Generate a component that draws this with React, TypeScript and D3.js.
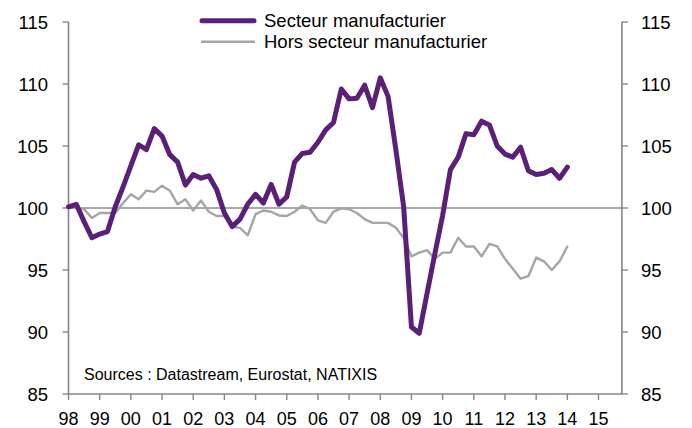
import React from "react";
import * as d3 from "d3";

const startYear = 1998;
const manufacturing = [
  100.1, 100.3, 98.9, 97.6, 97.9, 98.1, 100.1, 101.7,
  103.4, 105.1, 104.7, 106.4, 105.8, 104.3, 103.7, 101.85,
  102.7, 102.4, 102.6, 101.5, 99.6, 98.5, 99.1, 100.3,
  101.1, 100.4, 101.9, 100.3, 100.9, 103.7, 104.4, 104.5,
  105.3, 106.3, 106.9, 109.6, 108.8, 108.85, 109.9, 108.1,
  110.5, 109.0, 104.7, 100.1, 90.4, 89.9, 93.1, 96.3,
  99.4, 103.1, 104.1, 106.0, 105.9, 107.0, 106.7, 105.0,
  104.35, 104.1, 104.9, 103.0, 102.7, 102.8, 103.1, 102.4,
  103.3,
];
const nonManufacturing = [
  100.05, 100.0, 99.9, 99.2, 99.6, 99.6, 99.6, 100.4,
  101.1, 100.7, 101.4, 101.3, 101.8, 101.4, 100.3, 100.7,
  99.8, 100.6, 99.7, 99.35, 99.35, 98.5, 98.4, 97.8,
  99.5, 99.8, 99.7, 99.4, 99.35, 99.7, 100.2, 99.9,
  99.0, 98.8, 99.7, 99.97, 99.9, 99.6, 99.1, 98.8,
  98.8, 98.8, 98.4, 97.6, 96.1, 96.4, 96.6, 95.9,
  96.4, 96.4, 97.6, 96.9, 96.9, 96.1, 97.1, 96.9,
  95.9, 95.1, 94.3, 94.5, 96.0, 95.7, 95.0, 95.7,
  96.9,
];
const yearTicks = d3.range(1998, 2016);
const valueTicks = [85, 90, 95, 100, 105, 110, 115];
const seriesNames = ["Secteur manufacturier", "Hors secteur manufacturier"];
const sourceText = "Sources : Datastream, Eurostat, NATIXIS";

const W = 692;
const H = 428;
const left = 68.5;
const right = 621.9;
const top = 22;
const bottom = 394;

const PURPLE = "#5B1F78";
const GREY = "#A5A5A5";
const AXIS = "#868686";
const FONT = "'Liberation Sans', Arial, sans-serif";

export default function App() {
  const x = d3.scaleLinear().domain([1998, 2015.75]).range([left, right]);
  const y = d3.scaleLinear().domain([85, 115]).range([bottom, top]);
  const line = d3
    .line<number>()
    .x((_, i) => x(startYear + i / 4))
    .y((d) => y(d));

  return (
    <svg
      width={W}
      height={H}
      style={{ position: "absolute", left: 0, top: 0, background: "#fff" }}
      fontFamily={FONT}
    >
      <rect x={0} y={0} width={W} height={H} fill="#fff" />
      {/* reference line at 100 */}
      <line x1={left} x2={right} y1={y(100)} y2={y(100)} stroke="#8C8C8C" strokeWidth={1.6} />
      {/* axes */}
      <line x1={left} x2={left} y1={y(115)} y2={y(85)} stroke={AXIS} strokeWidth={1.6} />
      <line x1={right} x2={right} y1={y(115)} y2={y(85)} stroke={AXIS} strokeWidth={1.6} />
      <line x1={left} x2={right} y1={y(85)} y2={y(85)} stroke={AXIS} strokeWidth={1.6} />
      {valueTicks.map((v) => (
        <g key={v}>
          <line x1={left - 6} x2={left} y1={y(v)} y2={y(v)} stroke={AXIS} strokeWidth={1.4} />
          <line x1={right} x2={right + 6} y1={y(v)} y2={y(v)} stroke={AXIS} strokeWidth={1.4} />
          <text x={48} y={y(v) + 6.6} textAnchor="end" fontSize={18.5} fill="#000">
            {v}
          </text>
          <text x={641} y={y(v) + 6.6} textAnchor="start" fontSize={18.5} fill="#000">
            {v}
          </text>
        </g>
      ))}
      {yearTicks.map((yr) => (
        <g key={yr}>
          <line x1={x(yr)} x2={x(yr)} y1={bottom} y2={bottom + 6} stroke={AXIS} strokeWidth={1.4} />
          <text x={x(yr)} y={424.5} textAnchor="middle" fontSize={18} fill="#000">
            {String(yr % 100).padStart(2, "0")}
          </text>
        </g>
      ))}
      {/* series */}
      <path
        d={line(nonManufacturing) || ""}
        fill="none"
        stroke={GREY}
        strokeWidth={2.4}
        strokeLinejoin="round"
        strokeLinecap="round"
      />
      <path
        d={line(manufacturing) || ""}
        fill="none"
        stroke={PURPLE}
        strokeWidth={5}
        strokeLinejoin="round"
        strokeLinecap="round"
      />
      {/* legend */}
      <line x1={202} x2={254} y1={20.7} y2={20.7} stroke={PURPLE} strokeWidth={5} strokeLinecap="round" />
      <text x={264} y={27} fontSize={18.5} fill="#000">
        {seriesNames[0]}
      </text>
      <line x1={201} x2={255} y1={41.7} y2={41.7} stroke={GREY} strokeWidth={2.6} />
      <text x={264} y={48} fontSize={18.5} fill="#000">
        {seriesNames[1]}
      </text>
      <text x={84} y={380} fontSize={16} fill="#000">
        {sourceText}
      </text>
    </svg>
  );
}
